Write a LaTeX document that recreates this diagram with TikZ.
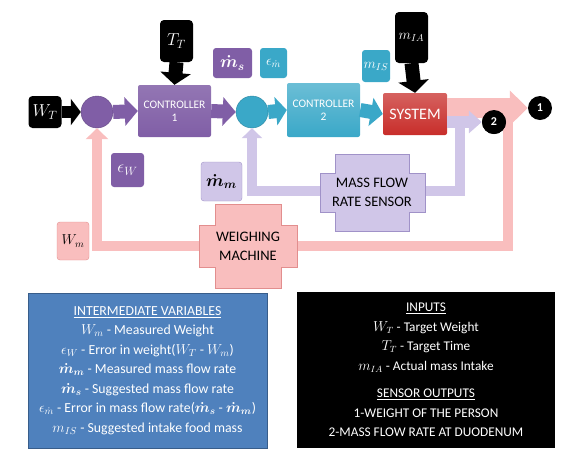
\documentclass[tikz,border=0pt]{standalone}
\usepackage{amsmath,amssymb}
\usepackage{fontspec}
\setmainfont{Carlito}
\usepackage{tikz}
\usetikzlibrary{arrows.meta}

\definecolor{ofpurple}{RGB}{128,94,166}
\definecolor{ofteal}{RGB}{58,168,200}
\definecolor{ofred}{RGB}{200,45,42}
\definecolor{ofpink}{RGB}{249,190,190}
\definecolor{ofpinkd}{RGB}{226,142,142}
\definecolor{oflav}{RGB}{208,198,232}
\definecolor{oflavd}{RGB}{160,146,200}
\definecolor{ofblue}{RGB}{79,129,189}
\definecolor{ofblued}{RGB}{56,93,138}

\begin{document}
\begin{tikzpicture}[x=1pt,y=-1pt,
  inbox/.style={fill=black,rounded corners=4pt,text=white,inner sep=0pt,font=\LARGE},
  ctrlbox/.style={rounded corners=2pt,text=white,inner sep=0pt,align=center,font=\fontsize{11.5}{13}\selectfont},
  lblbox/.style={rounded corners=3pt,inner sep=0pt,font=\Large},
  sumnode/.style={circle,inner sep=0pt,minimum size=32pt},
  outnode/.style={circle,fill=black,text=white,inner sep=0pt,minimum size=24pt,font=\bfseries\fontsize{12}{12}\selectfont},
  sensetext/.style={align=center,font=\fontsize{14.5}{19}\selectfont},
  notebox/.style={align=center,inner sep=0pt,font=\fontsize{13.3}{19.5}\selectfont}]
\useasboundingbox (0,0) rectangle (582,459);
% inputs
\node[inbox, minimum width=33pt, minimum height=32pt] (wt) at (45,112) {$W_T$};
\node[inbox, minimum width=33pt, minimum height=42pt] (tt) at (176.5,41) {$T_T$};
\node[inbox, minimum width=33pt, minimum height=51pt, font=\Large] (mia) at (411.5,37.5) {$m_{IA}$};
% sums and blocks
\node[sumnode, fill=ofpurple, draw=ofpurple!80!black] (c1) at (97,112) {};
\node[sumnode, fill=ofteal, draw=ofteal!80!black] (c2) at (252,112) {};
\node[ctrlbox, top color=ofpurple!85!white, bottom color=ofpurple, minimum width=73pt, minimum height=52pt] (ctrl1) at (174.5,111) {CONTROLLER\\1};
\node[ctrlbox, top color=ofteal!75!white, bottom color=ofteal, minimum width=73pt, minimum height=54pt] (ctrl2) at (323.5,110) {CONTROLLER\\2};
\node[ctrlbox, top color=ofred!75!white, bottom color=ofred, minimum width=64pt, minimum height=42pt, font=\fontsize{16}{18}\selectfont] (sys) at (415,114) {SYSTEM};
% feedback paths
\coordinate (fb) at (508,108);
\coordinate (wbase) at (508,246);
\coordinate (fl) at (460,122);
\coordinate (sbase) at (460,191);
\draw[ofpink, line width=10pt, line join=miter, -{Triangle[width=22pt,length=11pt]}] (fb) -- (wbase) -| (c1.south);
\draw[oflav, line width=10pt, line join=miter, -{Triangle[width=20pt,length=10pt]}] (fl) -- (sbase) -| (c2.south);
% sensors
\draw[fill=ofpink, draw=ofpinkd] (215,204) -- (281,204) -- (281,225) -- (297,225) -- (297,267) -- (281,267) -- (281,288) -- (215,288) -- (215,267) -- (199,267) -- (199,225) -- (215,225) -- cycle;
\node[sensetext] (weigh) at (248,246) {WEIGHING\\MACHINE};
\draw[fill=oflav, draw=oflavd] (335,154) -- (409,154) -- (409,173) -- (425,173) -- (425,212) -- (409,212) -- (409,231) -- (335,231) -- (335,212) -- (320,212) -- (320,173) -- (335,173) -- cycle;
\node[sensetext] (sens) at (372,192) {MASS FLOW\\RATE SENSOR};
% arrows
\draw[line width=12pt, -{Triangle[width=26pt,length=10pt]}] (wt.east) -- (c1.west);
\draw[line width=14pt, -{Triangle[width=30pt,length=12pt]}] (tt.south) -- (ctrl1.north);
\draw[line width=14pt, -{Triangle[width=30pt,length=12pt]}] (mia.south) -- (sys.north);
\draw[ofpurple, line width=14pt, -{Triangle[width=28pt,length=13pt]}] (c1.east) -- (ctrl1.west);
\draw[ofpurple, line width=14pt, -{Triangle[width=28pt,length=13pt]}] (ctrl1.east) -- (c2.west);
\draw[ofteal, line width=14pt, -{Triangle[width=28pt,length=11pt]}] (c2.east) -- (ctrl2.west);
\draw[ofteal, line width=14pt, -{Triangle[width=28pt,length=12pt]}] (ctrl2.east) -- (sys.west);
% outputs
\node[outnode] (out1) at (540,108) {1};
\node[outnode] (out2) at (494,122) {2};
\draw[ofpink, line width=20pt, -{Triangle[width=34pt,length=18pt]}] ([yshift=6pt]sys.east) -- (out1.west);
\draw[oflav, line width=12pt, -{Triangle[width=22pt,length=13pt]}] ([yshift=-8pt]sys.east) -- (out2.west);
\node[outnode] at (494,122) {2};
% labels
\node[lblbox, fill=ofpurple, text=white, minimum width=39pt, minimum height=30pt, font=\LARGE] (ms) at (232.5,63) {$\boldsymbol{\dot{m}_s}$};
\node[lblbox, fill=ofteal, text=white, minimum width=27pt, minimum height=30pt] (em) at (273.5,63) {$\epsilon_{\dot{m}}$};
\node[lblbox, fill=ofteal, text=white, minimum width=28pt, minimum height=32pt] (mis) at (376,66) {$m_{IS}$};
\node[lblbox, fill=ofpurple, text=white, minimum width=33pt, minimum height=34pt, font=\LARGE] (ew) at (127.5,170) {$\epsilon_W$};
\node[lblbox, fill=oflav, draw=oflavd, minimum width=41pt, minimum height=39pt, font=\LARGE] (mm) at (221.5,181.5) {$\boldsymbol{\dot{m}_m}$};
\node[lblbox, fill=ofpink, draw=ofpinkd, minimum width=32pt, minimum height=38pt] (wm) at (73,241) {$W_m$};
% notes
\node[notebox, fill=ofblue, draw=ofblued, line width=1pt, text=white, minimum width=239pt, minimum height=155pt, font=\fontsize{13.8}{19.5}\selectfont] (vars) at (147.5,370.5) {\underline{INTERMEDIATE VARIABLES}\\
$W_m$ - Measured Weight\\
$\epsilon_W$ - Error in weight($W_T$ - $W_m$)\\
$\boldsymbol{\dot{m}_m}$ - Measured mass flow rate\\
$\boldsymbol{\dot{m}_s}$ - Suggested mass flow rate\\
$\epsilon_{\dot{m}}$ - Error in mass flow rate($\boldsymbol{\dot{m}_s}$ - $\boldsymbol{\dot{m}_m}$)\\
$m_{IS}$ - Suggested intake food mass};
\node[notebox, fill=black, text=white, minimum width=258pt, minimum height=156pt] (ins) at (426,370) {\underline{INPUTS}\\
$W_T$ - Target Weight\\
$T_T$ - Target Time\\
$m_{IA}$ - Actual mass Intake\\[8pt]
\underline{SENSOR OUTPUTS}\\
1-WEIGHT OF THE PERSON\\
2-MASS FLOW RATE AT DUODENUM};
\end{tikzpicture}
\end{document}
